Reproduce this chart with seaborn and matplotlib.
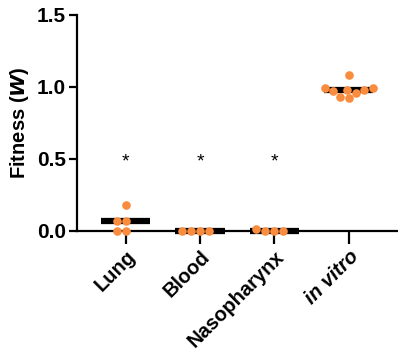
import numpy as np
import pandas as pd
import matplotlib
matplotlib.use("Agg")
import matplotlib.pyplot as plt
import seaborn as sns

# Fitness values per niche
lung = [0.18, 0.07, 0.07, 0.0, 0.0]
blood = [0.0, 0.0, 0.0, 0.0]
nasopharynx = [0.0, 0.0, 0.0, 0.01]
in_vitro = [1.08, 0.99, 0.98, 0.97, 0.96, 0.98, 0.99, 0.92, 0.93]

categories = ["Lung", "Blood", "Nasopharynx", "in vitro"]
groups = [lung, blood, nasopharynx, in_vitro]
star_labels = ["*", "*", "*", ""]
star_height = 0.48
y_ticks = [0.0, 0.5, 1.0, 1.5]

df = pd.DataFrame({
    "niche": np.repeat(categories, [len(g) for g in groups]),
    "fitness": np.concatenate(groups),
})

sns.set_style("ticks")
plt.rcParams["font.family"] = ["Liberation Sans", "DejaVu Sans"]
plt.rcParams["text.color"] = "black"
plt.rcParams["axes.labelcolor"] = "black"
plt.rcParams["xtick.color"] = "black"
plt.rcParams["ytick.color"] = "black"

fig = plt.figure(figsize=(3.98, 3.53), dpi=100)
ax = fig.add_axes([0.193, 0.346, 0.807, 0.612])

orange = "#F98C3E"

# median bars
sns.boxplot(data=df, x="niche", y="fitness", order=categories, ax=ax,
            showbox=False, showcaps=False, whis=0, showfliers=False,
            width=0.66, whiskerprops={"visible": False},
            medianprops={"color": "black", "linewidth": 4.5,
                         "solid_capstyle": "butt", "zorder": 4})

sns.swarmplot(data=df, x="niche", y="fitness", order=categories, ax=ax,
              color=orange, size=6.2, linewidth=0, zorder=5)

for coll in ax.collections:
    coll.set_clip_on(False)
for line in ax.lines:
    line.set_clip_on(False)

for i, s in enumerate(star_labels):
    if s:
        ax.text(i, star_height, s, ha="center", va="center",
                fontsize=14, color="black")

ax.set_xlim(-0.655, 3.66)
ax.set_ylim(0, 1.5)
ax.set_yticks(y_ticks)
ax.set_yticklabels([f"{t:.1f}" for t in y_ticks], fontsize=15,
                   fontweight="bold", color="black")
ax.set_xticks(range(len(categories)))
ax.set_xticklabels(categories, fontsize=14.5, fontweight="bold", color="black",
                   rotation=45, ha="right", rotation_mode="anchor")
ax.get_xticklabels()[3].set_fontstyle("italic")

ax.set_xlabel("")
ax.set_ylabel(r"Fitness ($\bfit{W}$)", fontsize=14.5, fontweight="bold",
              color="black", labelpad=4)

for side in ["top", "right"]:
    ax.spines[side].set_visible(False)
for side in ["left", "bottom"]:
    ax.spines[side].set_linewidth(1.6)
    ax.spines[side].set_color("black")
    ax.spines[side].set_zorder(2)

ax.tick_params(axis="y", length=6, width=1.6, pad=2, colors="black")
ax.tick_params(axis="x", length=9.5, width=1.6, pad=2, colors="black")

fig.savefig("out.png", dpi=100)
